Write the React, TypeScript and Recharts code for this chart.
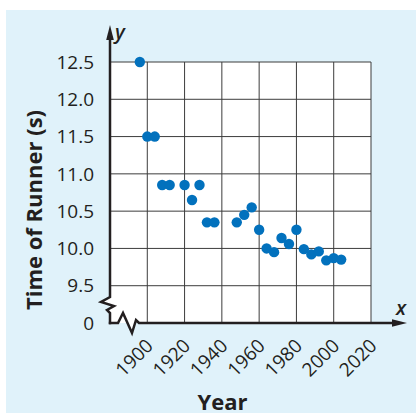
import React from 'react';
import { ScatterChart, Scatter, XAxis, YAxis, ReferenceLine, CartesianGrid } from 'recharts';

const years = [1896, 1900, 1904, 1908, 1912, 1920, 1924, 1928, 1932, 1936, 1948, 1952, 1956, 1960, 1964, 1968, 1972, 1976, 1980, 1984, 1988, 1992, 1996, 2000, 2004];
const times = [12.5, 11.5, 11.5, 10.85, 10.85, 10.85, 10.65, 10.85, 10.35, 10.35, 10.35, 10.45, 10.55, 10.25, 10.0, 9.95, 10.14, 10.06, 10.25, 9.99, 9.92, 9.96, 9.84, 9.87, 9.85];
const xTicks = [1880, 1900, 1920, 1940, 1960, 1980, 2000, 2020];
const yTicks = [9.0, 9.5, 10.0, 10.5, 11.0, 11.5, 12.0, 12.5];
const xGrid = [1900, 1920, 1940, 1960, 1980, 2000, 2020];
const yGrid = [9.5, 10.0, 10.5, 11.0, 11.5, 12.0, 12.5];

const data = years.map((year, i) => ({ year, time: times[i] }));

const FONT = "'Open Sans', 'Noto Sans', sans-serif";
const TEXT = '#231F20';
const BLUE = '#0271BD';
const AXIS = '#231F20';

const yFmt = (v: number) => (v === 9 ? '0' : v.toFixed(1));
const xFmt = (v: number) => (v === 1880 ? '' : String(v));

const YTick = (props: any) => {
  const { x, y, payload } = props;
  return (
    <text x={x - 16} y={y} dy="0.35em" textAnchor="end" fontFamily={FONT} fontSize={19} fill={TEXT}>
      {yFmt(payload.value)}
    </text>
  );
};

const XTick = (props: any) => {
  const { x, y, payload } = props;
  const label = xFmt(payload.value);
  if (!label) return <g />;
  const px = x + 7;
  const py = y + 24;
  return (
    <text x={px} y={py} textAnchor="end" transform={`rotate(-45 ${px} ${py})`} fontFamily={FONT} fontSize={19} fill={TEXT}>
      {label}
    </text>
  );
};

const YAxisShape = (props: any) => {
  const x = props.x1;
  const top = Math.min(props.y1, props.y2);
  const bottom = Math.max(props.y1, props.y2);
  const d = `M ${x} ${top - 24} L ${x} ${bottom - 26} L ${x - 9} ${bottom - 21} L ${x + 4} ${bottom - 17} L ${x - 3} ${bottom - 13} L ${x} ${bottom - 10} L ${x} ${bottom + 1.2}`;
  return (
    <g>
      <path d={`M ${x} ${bottom - 26} L ${x - 9} ${bottom - 21} L ${x + 4} ${bottom - 17} L ${x - 3} ${bottom - 13} L ${x} ${bottom - 10} Z`} fill="#fff" stroke="none" />
      <path d={d} fill="none" stroke={AXIS} strokeWidth={2.5} strokeLinejoin="miter" />
      <polygon points={`${x},${top - 37} ${x - 3.8},${top - 22} ${x + 3.8},${top - 22}`} fill={AXIS} />
      <text x={x + 5} y={top - 23} fontFamily={FONT} fontSize={20} fontStyle="italic" fontWeight={600} fill={TEXT}>y</text>
    </g>
  );
};

const XAxisShape = (props: any) => {
  const y = props.y1;
  const left = Math.min(props.x1, props.x2);
  const right = Math.max(props.x1, props.x2);
  const d = `M ${left - 1.2} ${y} L ${left + 8} ${y} L ${left + 13} ${y - 10} L ${left + 22} ${y + 10} L ${left + 26} ${y - 3} L ${left + 29} ${y} L ${right + 24} ${y}`;
  return (
    <g>
      <path d={`M ${left + 13} ${y - 10} L ${left + 22} ${y + 10} L ${left + 26} ${y - 3} Z`} fill="#fff" stroke="none" />
      <path d={d} fill="none" stroke={AXIS} strokeWidth={2.5} strokeLinejoin="miter" />
      <polygon points={`${right + 36},${y} ${right + 21},${y - 3.8} ${right + 21},${y + 3.8}`} fill={AXIS} />
      <text x={right + 25} y={y - 8} fontFamily={FONT} fontSize={20} fontStyle="italic" fontWeight={600} fill={TEXT}>x</text>
    </g>
  );
};

const Dot = (props: any) => <circle cx={props.cx} cy={props.cy} r={5.2} fill={BLUE} />;

export default function App() {
  return (
    <div style={{ position: 'absolute', left: 0, top: 0, width: 416, height: 415, background: '#fff' }}>
      <div style={{ position: 'absolute', left: 6, top: 10, width: 410, height: 403, background: '#E0F2FA' }} />
      <div style={{ position: 'absolute', left: 0, top: 0 }}>
        <ScatterChart width={416} height={415} margin={{ top: 62, right: 45, bottom: 42, left: 50 }}>
          <CartesianGrid horizontal={false} vertical={false} fill="#fff" fillOpacity={1} />
          <XAxis
            type="number"
            dataKey="year"
            domain={[1880, 2020]}
            ticks={xTicks}
            interval={0}
            axisLine={false}
            tickLine={false}
            tickSize={0}
            tickMargin={0}
            height={50}
            tick={<XTick />}
            label={{
              content: (p: any) => {
                const vb = p.viewBox || { x: 110, y: 323, width: 261, height: 50 };
                return (
                  <text x={vb.x + vb.width / 2 - 18} y={vb.y + 87} textAnchor="middle" fontFamily={FONT} fontSize={22} fontWeight={700} fill={TEXT}>
                    Year
                  </text>
                );
              },
            }}
          />
          <YAxis
            type="number"
            dataKey="time"
            domain={[9, 12.5]}
            ticks={yTicks}
            interval={0}
            axisLine={false}
            tickLine={false}
            tickSize={0}
            tickMargin={0}
            width={60}
            tick={<YTick />}
            label={{
              content: (p: any) => {
                const vb = p.viewBox || { x: 50, y: 62, width: 60, height: 261 };
                const cx = vb.x - 8.5;
                const cy = vb.y + vb.height / 2 + 17.5;
                return (
                  <text x={cx} y={cy} textAnchor="middle" transform={`rotate(-90 ${cx} ${cy})`} fontFamily={FONT} fontSize={22} fontWeight={700} fill={TEXT}>
                    Time of Runner (s)
                  </text>
                );
              },
            }}
          />
          {xGrid.map((v) => (
            <ReferenceLine key={'gx' + v} x={v} stroke="#3c3c3c" strokeWidth={1} />
          ))}
          {yGrid.map((v) => (
            <ReferenceLine key={'gy' + v} y={v} stroke="#3c3c3c" strokeWidth={1} />
          ))}
          <ReferenceLine x={1880} shape={<YAxisShape />} />
          <ReferenceLine y={9} shape={<XAxisShape />} />
          <Scatter data={data} fill={BLUE} shape={<Dot />} isAnimationActive={false} />
        </ScatterChart>
      </div>
    </div>
  );
}
